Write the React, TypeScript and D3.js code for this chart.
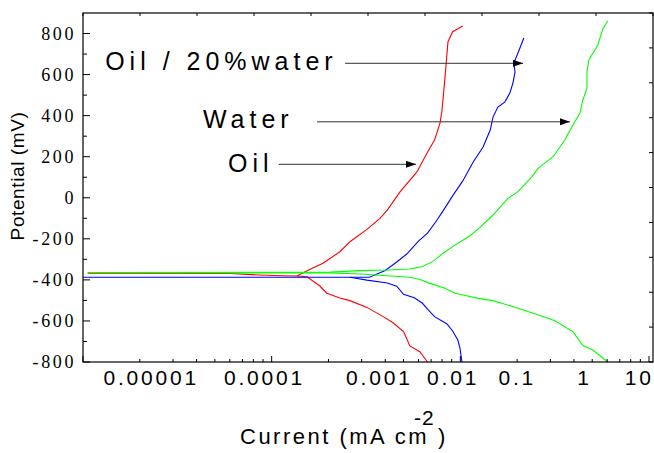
import * as d3 from 'd3';

// current density (axis units) vs potential (mV)
const redCathodic: [number, number][] = [
  [1.06e-5, -368], [6.0e-5, -369], [8.5e-5, -376], [1.15e-4, -380], [1.36e-4, -381],
  [1.54e-4, -385], [1.8e-4, -430], [1.96e-4, -465], [2.3e-4, -488], [2.6e-4, -501],
  [3.2e-4, -534], [3.9e-4, -579], [4.4e-4, -609], [5.0e-4, -652], [5.4e-4, -722],
  [6.1e-4, -750], [6.7e-4, -800],
];
const redAnodic: [number, number][] = [
  [1.36e-4, -381], [1.6e-4, -348], [1.87e-4, -319], [2.3e-4, -263], [2.6e-4, -214],
  [3.2e-4, -154], [3.75e-4, -100], [4.1e-4, -60], [4.8e-4, 30], [5.9e-4, 127],
  [6.65e-4, 217], [7.3e-4, 281], [7.8e-4, 363], [8.0e-4, 428], [8.3e-4, 590],
  [8.6e-4, 760], [9.1e-4, 809], [1.03e-3, 837],
];
const blueCathodic: [number, number][] = [
  [1e-5, -387], [2.6e-4, -387], [3.2e-4, -401], [4.1e-4, -415], [4.6e-4, -431],
  [5.0e-4, -470], [5.7e-4, -487], [6.3e-4, -514], [6.7e-4, -542], [7.3e-4, -579],
  [8.5e-4, -615], [9.1e-4, -649], [9.7e-4, -693], [9.95e-4, -732], [1.02e-3, -800],
];
const blueAnodic: [number, number][] = [
  [2.6e-4, -387], [3.3e-4, -387], [4.0e-4, -354], [4.6e-4, -313], [5.2e-4, -274],
  [6.0e-4, -211], [6.7e-4, -172], [7.4e-4, -118], [8.1e-4, -64], [9.1e-4, 9],
  [1.03e-3, 82], [1.17e-3, 174], [1.32e-3, 247], [1.44e-3, 330], [1.49e-3, 393],
  [1.58e-3, 442], [1.72e-3, 466], [1.83e-3, 510], [1.9e-3, 559], [1.95e-3, 613],
  [1.92e-3, 656], [2.02e-3, 705], [2.17e-3, 778],
];
const greenCathodic: [number, number][] = [
  [1.06e-5, -365], [2.04e-4, -366], [2.94e-4, -371], [5.4e-4, -387], [6.1e-4, -398],
  [6.9e-4, -417], [8.3e-4, -441], [9.36e-4, -465], [1.08e-3, -477], [1.24e-3, -490],
  [1.47e-3, -500], [1.9e-3, -530], [2.43e-3, -563], [2.81e-3, -582], [3.17e-3, -599],
  [3.95e-3, -652], [4.46e-3, -720], [5.04e-3, -742], [6.05e-3, -800],
];
const greenAnodic: [number, number][] = [
  [1.06e-5, -364], [2.04e-4, -362], [2.94e-4, -355], [4.1e-4, -352], [5.4e-4, -347],
  [6.3e-4, -335], [7.16e-4, -310], [8.1e-4, -270], [9.1e-4, -238], [1.02e-3, -209],
  [1.12e-3, -186], [1.27e-3, -144], [1.49e-3, -84], [1.79e-3, -3], [2.02e-3, 30],
  [2.4e-3, 103], [2.58e-3, 143], [3.1e-3, 200], [3.58e-3, 281], [3.95e-3, 354],
  [4.3e-3, 411], [4.46e-3, 476], [4.69e-3, 533], [4.69e-3, 614], [4.8e-3, 671],
  [5.36e-3, 744], [5.7e-3, 825], [6.05e-3, 862],
];

const series = [
  { name: 'oil20', color: '#ff0000', branches: [redCathodic, redAnodic] },
  { name: 'oil', color: '#0000ff', branches: [blueCathodic, blueAnodic] },
  { name: 'water', color: '#00ff00', branches: [greenCathodic, greenAnodic] },
];

// x tick labels as printed, and where they sit on the axis
const xTickLabels = ['0.00001', '0.0001', '0.001', '0.01', '0.1', '1', '10'];
const xTickAnchors = [2.26e-5, 9.0e-5, 3.66e-4, 9.0e-4, 1.97e-3, 4.47e-3, 8.73e-3];

const yTickValues = [-800, -600, -400, -200, 0, 200, 400, 600, 800];

// arrow annotations (text anchor + arrow in data units)
const notes = [
  { text: 'Oil / 20%water', tx: 1.31e-5, ty: 622, from: 2.45e-4, to: 2.15e-3, ay: 655 },
  { text: 'Water', tx: 4.32e-5, ty: 340, from: 1.74e-4, to: 3.81e-3, ay: 370 },
  { text: 'Oil', tx: 5.87e-5, ty: 125, from: 1.09e-4, to: 5.82e-4, ay: 163 },
];

const width = 654;
const height = 453;
const plot = { left: 83, right: 653, top: 13, bottom: 362 };

export default function App() {
  const x = d3.scaleLog().domain([1e-5, 1.05e-2]).range([plot.left, plot.right]);
  const y = d3.scaleLinear().domain([-800, 900]).range([plot.bottom, plot.top]);
  // secondary frame ticks (top / right), plain divisions
  const top = d3.scaleLinear().domain([0, 10]).range([plot.left, plot.right]);
  const right = d3.scaleLinear().domain([0, 10]).range([plot.bottom, plot.top]);

  const line = d3.line<[number, number]>()
    .x(d => x(d[0]))
    .y(d => y(d[1]));

  const xTicks = x.ticks();
  const yMinor = d3.range(-700, 900, 200);

  const sans = "'Liberation Sans', Arial, sans-serif";
  const serif = "'Liberation Serif', 'Times New Roman', serif";

  return (
    <svg width={width} height={height} style={{ position: 'absolute', left: 0, top: 0, background: '#fff' }}>
      <defs>
        <marker id="head" markerUnits="userSpaceOnUse" markerWidth="11" markerHeight="7"
          refX="10" refY="3.5" orient="auto">
          <path d="M0,0 L10,3.5 L0,7 Z" fill="#000" />
        </marker>
      </defs>

      {/* curves */}
      {series.map(s => s.branches.map((b, i) => (
        <path key={s.name + i} d={line(b) || ''} fill="none" stroke={s.color} strokeWidth={1.1} />
      )))}

      {/* frame */}
      <rect x={plot.left} y={plot.top} width={plot.right - plot.left} height={plot.bottom - plot.top}
        fill="none" stroke="#000" strokeWidth={1.2} />

      {/* bottom log ticks */}
      {xTicks.map((t, i) => {
        const major = Math.abs(Math.log10(t) - Math.round(Math.log10(t))) < 1e-6;
        const px = x(t);
        return <line key={'xt' + i} x1={px} x2={px} y1={plot.bottom} y2={plot.bottom - (major ? 6 : 3)}
          stroke="#000" strokeWidth={1} />;
      })}
      {xTickLabels.map((lab, i) => (
        <text key={'xl' + i} x={x(xTickAnchors[i]) + 1.4} y={385} textAnchor="middle"
          fontFamily={sans} fontSize={21} letterSpacing={2.8} fill="#000">{lab}</text>
      ))}

      {/* top and right ticks */}
      {top.ticks(10).map((t, i) => (
        <line key={'tt' + i} x1={top(t)} x2={top(t)} y1={plot.top} y2={plot.top + 3} stroke="#000" />
      ))}
      {right.ticks(10).map((t, i) => (
        <line key={'rt' + i} x1={plot.right} x2={plot.right - 4} y1={right(t)} y2={right(t)} stroke="#000" />
      ))}

      {/* left axis */}
      {yTickValues.map(v => (
        <g key={'yt' + v}>
          <line x1={plot.left} x2={plot.left + 7} y1={y(v)} y2={y(v)} stroke="#000" />
          <text x={76} y={y(v)} dy="0.35em" textAnchor="end" fontFamily={serif} fontSize={18}
            letterSpacing={2.6} fill="#000">{String(v)}</text>
        </g>
      ))}
      {yMinor.map(v => (
        <line key={'ym' + v} x1={plot.left} x2={plot.left + 4} y1={y(v)} y2={y(v)} stroke="#000" />
      ))}

      {/* annotations */}
      {notes.map(n => (
        <g key={n.text}>
          <text x={x(n.tx)} y={y(n.ty)} fontFamily={sans} fontSize={25} letterSpacing={5} fill="#000">{n.text}</text>
          <line x1={x(n.from)} x2={x(n.to)} y1={y(n.ay)} y2={y(n.ay)} stroke="#333" strokeWidth={1}
            markerEnd="url(#head)" />
        </g>
      ))}

      {/* axis titles */}
      <text transform="translate(24,176) rotate(-90)" textAnchor="middle" fontFamily={sans} fontSize={19}
        letterSpacing={0.6} fill="#000">Potential (mV)</text>
      <text x={240} y={444} fontFamily={sans} fontSize={22} letterSpacing={2.5} fill="#000">Current (mA cm</text>
      <text x={414} y={425} fontFamily={sans} fontSize={21} letterSpacing={1} fill="#000">-2</text>
      <text x={438} y={444} fontFamily={sans} fontSize={22} fill="#000">)</text>
    </svg>
  );
}
